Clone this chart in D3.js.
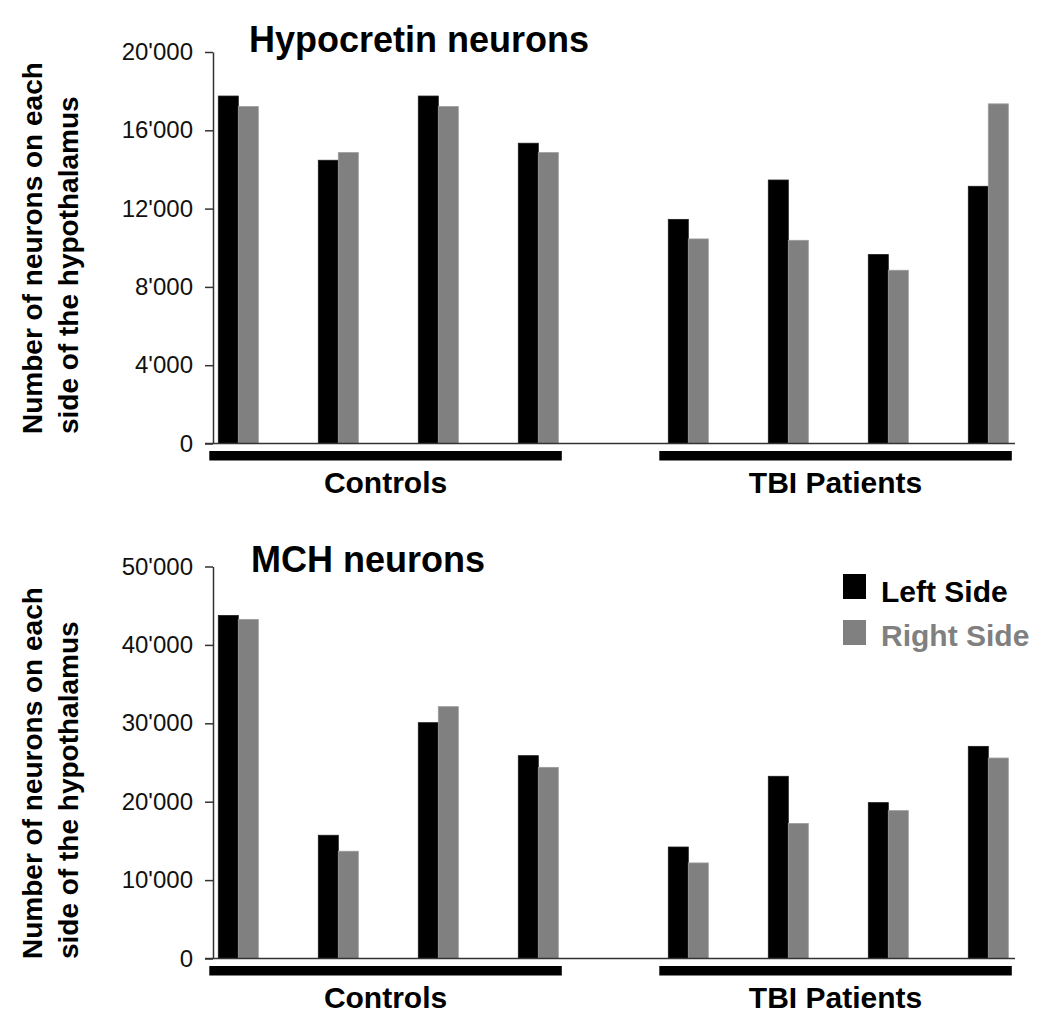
<!DOCTYPE html>
<html>
<head>
<meta charset="utf-8">
<script src="https://cdn.jsdelivr.net/npm/d3@7"></script>
<style>
  html, body { margin: 0; padding: 0; background: #fff; }
  svg { display: block; font-family: "Liberation Sans", Arial, Helvetica, sans-serif; }
</style>
</head>
<body>
<svg id="chart" width="1050" height="1020"></svg>
<script>
// ---------- data ----------
const subjects = ["C1", "C2", "C3", "C4", "T1", "T2", "T3", "T4"];
const subjectGroup = [0, 0, 0, 0, 1, 1, 1, 1];
const groups = ["Controls", "TBI Patients"];
const seriesNames = ["Left Side", "Right Side"];
const seriesColors = ["#000000", "#808080"];

const hcrtLeft  = [17750, 14470, 17750, 15340, 11450, 13460, 9650, 13140];
const hcrtRight = [17210, 14860, 17210, 14860, 10450, 10380, 8850, 17350];
const hcrtTicks = [0, 4000, 8000, 12000, 16000, 20000];

const mchLeft  = [43750, 15720, 30080, 25870, 14220, 23240, 19880, 27060];
const mchRight = [43250, 13680, 32120, 24380, 12190, 17210, 18860, 25570];
const mchTicks = [0, 10000, 20000, 30000, 40000, 50000];

const yLabelLines = ["Number of neurons on each", "side of the hypothalamus"];

// ---------- setup ----------
const svg = d3.select("#chart");
const font = '"Liberation Sans", Arial, Helvetica, sans-serif';
const fmt = d3.formatLocale({ decimal: ".", thousands: "'", grouping: [3], currency: ["", ""] }).format(",d");

// slot position of each subject: group gap of half a slot
const slots = subjects.map((s, i) => i + subjectGroup[i] * 0.5);
const x = d3.scaleLinear().domain([-0.333, 7.767]).range([205, 1015]);
const barW = 20;
const yAxisX = 213;

const panels = [
  { title: "Hypocretin neurons", titleX: 249, titleY: 52,
    left: hcrtLeft, right: hcrtRight, ticks: hcrtTicks,
    yRange: [443.5, 52], labelY: 434, legend: false },
  { title: "MCH neurons", titleX: 251, titleY: 572,
    left: mchLeft, right: mchRight, ticks: mchTicks,
    yRange: [958.5, 566.5], labelY: 959, legend: true }
];

panels.forEach(p => {
  const y = d3.scaleLinear().domain([0, d3.max(p.ticks)]).range(p.yRange);
  const g = svg.append("g");

  // bars
  const series = [p.left, p.right];
  series.forEach((vals, si) => {
    g.append("g").selectAll("rect")
      .data(vals)
      .join("rect")
      .attr("x", (d, i) => x(slots[i]) + (si === 0 ? -barW : 0))
      .attr("y", d => y(d))
      .attr("width", barW)
      .attr("height", d => y(0) - y(d))
      .attr("fill", seriesColors[si])
      .attr("stroke", si === 0 ? "#1a1a1a" : "#9a9a9a")
      .attr("stroke-width", 0.8);
  });

  // y axis
  const ax = g.append("g")
    .attr("transform", `translate(${yAxisX},0)`)
    .call(d3.axisLeft(y).tickValues(p.ticks).tickFormat(fmt).tickSize(8).tickSizeOuter(0).tickPadding(12));
  ax.select(".domain").attr("stroke", "#333").attr("stroke-width", 1.5);
  ax.selectAll(".tick line").attr("stroke", "#333").attr("stroke-width", 1.5);
  ax.selectAll(".tick text")
    .attr("font-family", font)
    .attr("font-size", 24)
    .attr("fill", "#111");

  // x baseline
  g.append("line")
    .attr("x1", x.range()[0]).attr("x2", x.range()[1])
    .attr("y1", y(0)).attr("y2", y(0))
    .attr("stroke", "#333").attr("stroke-width", 1.5);

  // group bars and labels
  groups.forEach((gName, gi) => {
    const s = slots.filter((v, i) => subjectGroup[i] === gi);
    const x0 = x(d3.min(s) - 0.29);
    const x1 = x(d3.max(s) + 0.235);
    g.append("rect")
      .attr("x", x0).attr("y", y(0) + 7.5)
      .attr("width", x1 - x0).attr("height", 9.5)
      .attr("fill", "#000");
    g.append("text")
      .attr("x", (x0 + x1) / 2).attr("y", y(0) + 49)
      .attr("text-anchor", "middle")
      .attr("font-family", font).attr("font-weight", "bold")
      .attr("font-size", 30)
      .text(gName);
  });

  // title
  g.append("text")
    .attr("x", p.titleX).attr("y", p.titleY)
    .attr("font-family", font).attr("font-weight", "bold")
    .attr("font-size", 36)
    .text(p.title);

  // y label
  const lab = g.append("text")
    .attr("transform", `translate(0,${p.labelY}) rotate(-90)`)
    .attr("font-family", font).attr("font-weight", "bold")
    .attr("font-size", 28)
    .attr("text-anchor", "start");
  yLabelLines.forEach((t, i) => {
    lab.append("tspan").attr("x", 0).attr("y", i === 0 ? 41.5 : 78).text(t);
  });

  // legend
  if (p.legend) {
    const lg = g.append("g");
    seriesNames.forEach((n, i) => {
      lg.append("rect")
        .attr("x", 843).attr("y", 574 + i * 46)
        .attr("width", 23).attr("height", 25)
        .attr("fill", seriesColors[i]);
      lg.append("text")
        .attr("x", 881).attr("y", 601.5 + i * 44)
        .attr("font-family", font).attr("font-weight", "bold")
        .attr("font-size", 30)
        .attr("fill", seriesColors[i])
        .text(n);
    });
  }
});
</script>
</body>
</html>
